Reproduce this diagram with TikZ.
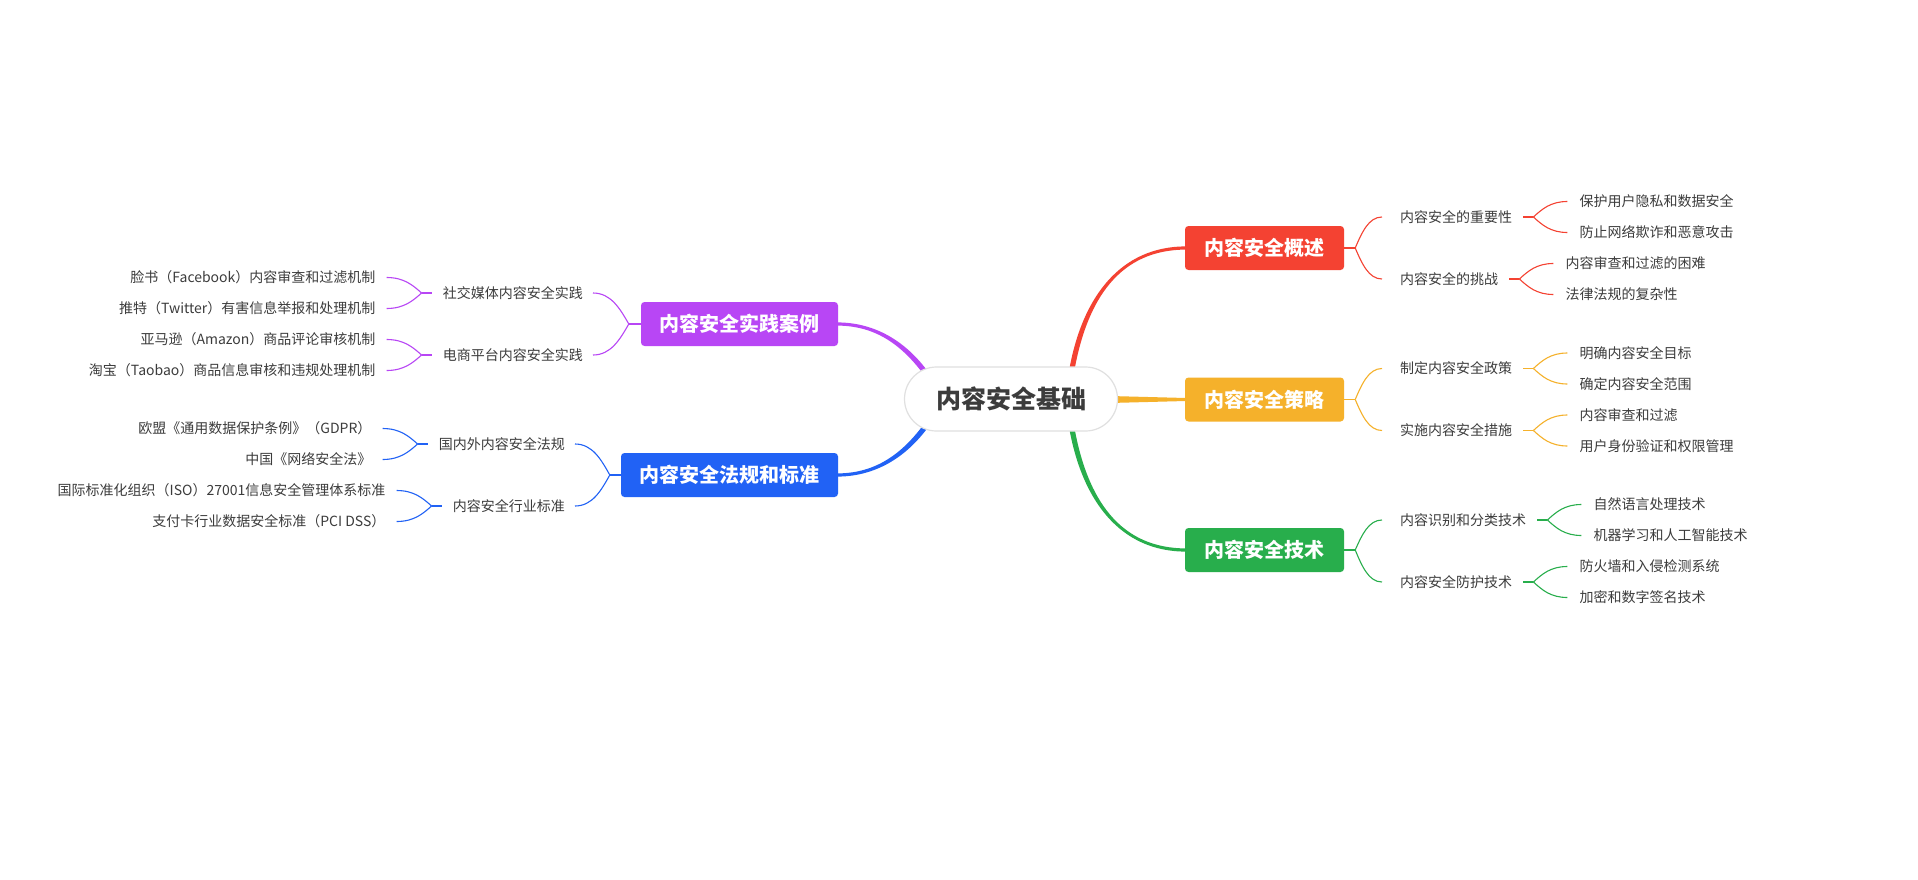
\documentclass[tikz,border=0pt]{standalone}
\usepackage{fontspec}
\setmainfont{Noto Sans CJK SC}
\usetikzlibrary{calc,backgrounds}
\definecolor{cred}{HTML}{F44232}
\definecolor{corg}{HTML}{F5B12B}
\definecolor{cgrn}{HTML}{28AE4C}
\definecolor{cblu}{HTML}{2162F5}
\definecolor{cpur}{HTML}{B846F5}
\definecolor{ctxt}{HTML}{3C3C3C}
\tikzset{
  rootnode/.style={rectangle, rounded corners=32pt, fill=white, draw=black!12, line width=1.2pt,
    minimum width=213pt, minimum height=64pt, text=ctxt, font=\fontsize{25}{30}\selectfont\bfseries, inner sep=0pt},
  brnode/.style={rectangle, rounded corners=3.5pt, minimum height=44pt, text=white,
    font=\fontsize{20}{24}\selectfont\bfseries, inner sep=0pt},
  leaf/.style={inner sep=0pt, text=ctxt, font=\fontsize{14}{17}\selectfont},
  subline/.style={line width=1.1pt},
}
\newcommand\cv[3]{\draw[#1,subline] let \p1=(#2), \p2=(#3) in (\p1) .. controls ({\x1+0.25*(\x2-\x1)},{\y1+0.5*(\y2-\y1)}) and ({\x1+0.5*(\x2-\x1)},\y2) .. (\p2);}
% right sub group: #1 name #2 color #3 parent split #4 y #5 text #6 leaf1 #7 leaf2
\newcommand\rsub[7]{%
  \node[leaf,anchor=west] (#1) at (1400,#4) {#5};
  \coordinate (#1e) at ($(#1.west)+(-18,0)$);
  \coordinate (#1a) at ($(#1.east)+(11,0)$);
  \coordinate (#1s) at ($(#1.east)+(21,0)$);
  \node[leaf,anchor=west] (#1x) at ($(#1s)+(46,-15.5)$) {#6};
  \node[leaf,anchor=west] (#1y) at ($(#1s)+(46,15.5)$) {#7};
  \coordinate (#1xe) at ($(#1s)+(34,-15.5)$);
  \coordinate (#1ye) at ($(#1s)+(34,15.5)$);
  \begin{scope}[on background layer]
    \cv{#2}{#3}{#1e}
    \draw[#2,subline] (#1a) -- (#1s);
    \cv{#2}{#1s}{#1xe}
    \cv{#2}{#1s}{#1ye}
  \end{scope}}
% left sub group: #1 name #2 color #3 parent split #4 x #5 y #6 text #7 leaf1 #8 leaf2
\newcommand\lsub[8]{%
  \node[leaf,anchor=east] (#1) at (#4,#5) {#6};
  \coordinate (#1e) at ($(#1.east)+(10,0)$);
  \coordinate (#1a) at ($(#1.west)+(-11,0)$);
  \coordinate (#1s) at ($(#1.west)+(-21,0)$);
  \node[leaf,anchor=east] (#1x) at ($(#1s)+(-46,-15.5)$) {#7};
  \node[leaf,anchor=east] (#1y) at ($(#1s)+(-46,15.5)$) {#8};
  \coordinate (#1xe) at ($(#1s)+(-35,-15.5)$);
  \coordinate (#1ye) at ($(#1s)+(-35,15.5)$);
  \begin{scope}[on background layer]
    \cv{#2}{#3}{#1e}
    \draw[#2,subline] (#1a) -- (#1s);
    \cv{#2}{#1s}{#1xe}
    \cv{#2}{#1s}{#1ye}
  \end{scope}}
\begin{document}
\begin{tikzpicture}[x=1pt,y=-1pt]
\useasboundingbox (0,0) rectangle (1918,880);
\begin{scope}[on background layer]
  \fill[white] (0,0) rectangle (1918,880);
\end{scope}

\node[rootnode] (root) at (1011,399) {内容安全基础};

% main branch nodes
\node[brnode,fill=cred,minimum width=159pt] (A) at (1264.5,248) {内容安全概述};
\node[brnode,fill=corg,minimum width=159pt] (B) at (1264.5,399.5) {内容安全策略};
\node[brnode,fill=cgrn,minimum width=159pt] (C) at (1264.5,550) {内容安全技术};
\node[brnode,fill=cpur,minimum width=197pt] (P) at (739.5,324) {内容安全实践案例};
\node[brnode,fill=cblu,minimum width=217pt] (Q) at (729.5,475) {内容安全法规和标准};

\coordinate (As) at ($(A.east)+(11,0)$);
\coordinate (Bs) at ($(B.east)+(11,0)$);
\coordinate (Cs) at ($(C.east)+(11,0)$);
\coordinate (Ps) at ($(P.west)+(-12,0)$);
\coordinate (Qs) at ($(Q.west)+(-11,0)$);

\begin{scope}[on background layer]
  % tapered main branches
  \fill[cred] (1074.55,369.48) .. controls (1087.55,298.48) and (1120,249.6) .. (1186,249.6)
     -- (1186,246.4) .. controls (1120,246.4) and (1082.45,297.52) .. (1069.45,368.52) -- cycle;
  \fill[cgrn] (1074.55,428.52) .. controls (1087.55,499.52) and (1120,548.4) .. (1186,548.4)
     -- (1186,551.6) .. controls (1120,551.6) and (1082.45,500.48) .. (1069.45,429.48) -- cycle;
  \fill[corg] (1110,396) -- (1186,398) -- (1186,401) -- (1110,403) -- cycle;
  \fill[cpur] (837,325.6) .. controls (872,325.6) and (898.84,341.44) .. (922.84,373.44)
     -- (927.16,370.56) .. controls (903.16,338.56) and (872,322.4) .. (837,322.4) -- cycle;
  \fill[cblu] (837,473.4) .. controls (872,473.4) and (898.84,457.56) .. (922.84,425.56)
     -- (927.16,428.44) .. controls (903.16,460.44) and (872,476.6) .. (837,476.6) -- cycle;
  % short stems
  \draw[cred,subline] (A.east) -- (As);
  \draw[corg,subline] (B.east) -- (Bs);
  \draw[cgrn,subline] (C.east) -- (Cs);
  \draw[cpur,subline] (P.west) -- (Ps);
  \draw[cblu,subline] (Q.west) -- (Qs);
\end{scope}

% right side
\rsub{A1}{cred}{As}{217}{内容安全的重要性}{保护用户隐私和数据安全}{防止网络欺诈和恶意攻击}
\rsub{A2}{cred}{As}{279}{内容安全的挑战}{内容审查和过滤的困难}{法律法规的复杂性}
\rsub{B1}{corg}{Bs}{368.5}{制定内容安全政策}{明确内容安全目标}{确定内容安全范围}
\rsub{B2}{corg}{Bs}{430.5}{实施内容安全措施}{内容审查和过滤}{用户身份验证和权限管理}
\rsub{C1}{cgrn}{Cs}{520}{内容识别和分类技术}{自然语言处理技术}{机器学习和人工智能技术}
\rsub{C2}{cgrn}{Cs}{582}{内容安全防护技术}{防火墙和入侵检测系统}{加密和数字签名技术}

% left side
\lsub{P1}{cpur}{Ps}{583}{293}{社交媒体内容安全实践}{脸书（Facebook）内容审查和过滤机制}{推特（Twitter）有害信息举报和处理机制}
\lsub{P2}{cpur}{Ps}{583}{355}{电商平台内容安全实践}{亚马逊（Amazon）商品评论审核机制}{淘宝（Taobao）商品信息审核和违规处理机制}
\lsub{Q1}{cblu}{Qs}{565}{444}{国内外内容安全法规}{欧盟《通用数据保护条例》（GDPR）}{中国《网络安全法》}
\lsub{Q2}{cblu}{Qs}{565}{506}{内容安全行业标准}{国际标准化组织（ISO）27001信息安全管理体系标准}{支付卡行业数据安全标准（PCI DSS）}
\end{tikzpicture}
\end{document}
